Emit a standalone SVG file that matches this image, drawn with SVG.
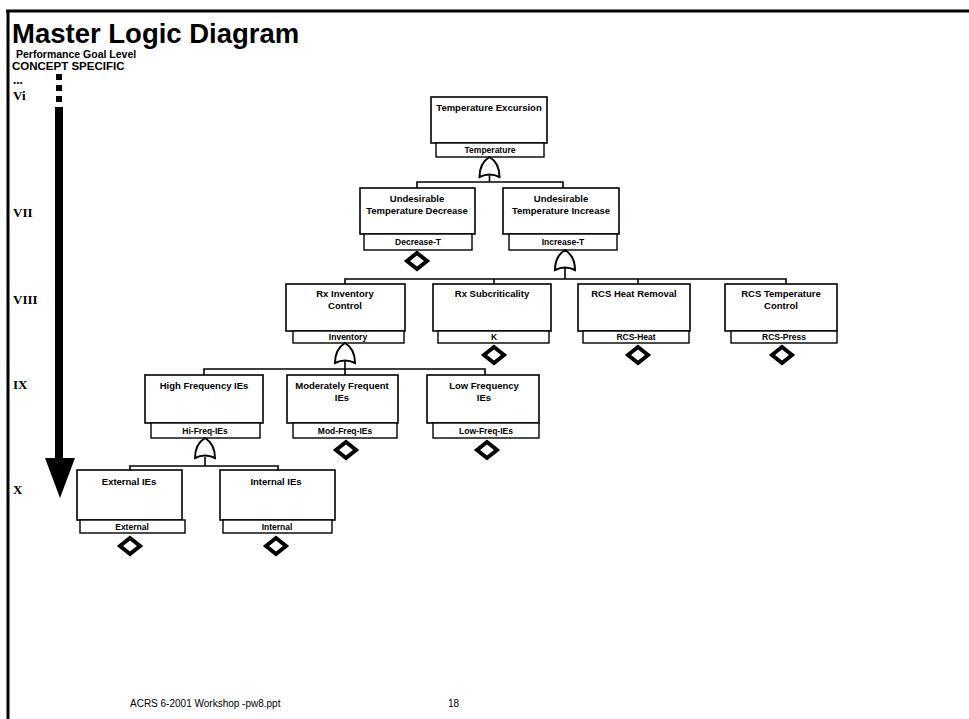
<svg xmlns="http://www.w3.org/2000/svg" width="969" height="719" viewBox="0 0 969 719">
  <style>
    .frame { stroke: #000; stroke-width: 3; fill: none; }
    .box { fill: #fff; stroke: #000; stroke-width: 1.6; }
    .lbl { fill: #fff; stroke: #000; stroke-width: 1.4; }
    .t { font-family: "Liberation Sans", Arial, sans-serif; font-weight: bold; font-size: 9.5px; text-anchor: middle; fill: #000; }
    .tl { font-family: "Liberation Sans", Arial, sans-serif; font-weight: bold; font-size: 8.5px; text-anchor: middle; fill: #000; }
    .lvl { font-family: "Liberation Serif", "Times New Roman", serif; font-weight: bold; font-size: 13px; fill: #000; }
    .wire { stroke: #000; stroke-width: 1.6; fill: none; }
    .gate { fill: #fff; stroke: #000; stroke-width: 2; }
    .dia { fill: #fff; stroke: #000; stroke-width: 4; }
  </style>
  <defs>
    <!-- OR gate, origin at the top point, 20 tall -->
    <path id="orgate" d="M -10 20 C -10 9 -5 3 0 0 C 5 3 10 9 10 20 Q 0 15 -10 20 Z"/>
    <!-- undeveloped event diamond -->
    <path id="diamond" d="M 0 -8 L 10 0 L 0 8 L -10 0 Z"/>
  </defs>

  <rect width="969" height="719" fill="#fff"/>

  <!-- slide frame -->
  <line class="frame" x1="6" y1="11" x2="969" y2="11"/>
  <line class="frame" x1="8" y1="10" x2="8" y2="719"/>

  <!-- heading -->
  <text x="12" y="43" font-family="Liberation Sans, Arial, sans-serif" font-weight="bold" font-size="27.5" fill="#000">Master Logic Diagram</text>
  <text x="16" y="58" font-family="Liberation Sans, Arial, sans-serif" font-weight="bold" font-size="10.5" fill="#000">Performance Goal Level</text>
  <text x="12" y="70" font-family="Liberation Sans, Arial, sans-serif" font-weight="bold" font-size="11.5" fill="#000">CONCEPT SPECIFIC</text>

  <!-- level scale -->
  <g id="levels">
    <text class="lvl" x="13" y="84">...</text>
    <text class="lvl" x="13" y="100">Vi</text>
    <text class="lvl" x="13" y="217">VII</text>
    <text class="lvl" x="13" y="304">VIII</text>
    <text class="lvl" x="13" y="389">IX</text>
    <text class="lvl" x="13" y="494">X</text>
    <rect x="56" y="74" width="6" height="6" fill="#000"/>
    <rect x="56" y="85" width="6" height="6" fill="#000"/>
    <rect x="56" y="96" width="6" height="6" fill="#000"/>
    <rect x="55" y="107" width="8" height="352" fill="#000"/>
    <polygon points="45,458 75,458 60,498" fill="#000"/>
  </g>

  <!-- connectors -->
  <g id="connectors">
    <!-- Temperature -> VII -->
    <line class="wire" x1="489.5" y1="175" x2="489.5" y2="182"/>
    <polyline class="wire" points="417,188 417,182 563,182 563,188"/>
    <!-- Increase-T -> VIII -->
    <line class="wire" x1="565" y1="268" x2="565" y2="279"/>
    <polyline class="wire" points="345,284 345,279 786,279 786,284"/>
    <line class="wire" x1="494" y1="279" x2="494" y2="284"/>
    <line class="wire" x1="638" y1="279" x2="638" y2="284"/>
    <!-- Inventory -> IX -->
    <line class="wire" x1="345" y1="361" x2="345" y2="369"/>
    <polyline class="wire" points="204,375 204,369 485,369 485,375"/>
    <line class="wire" x1="345" y1="369" x2="345" y2="375"/>
    <!-- Hi-Freq-IEs -> X -->
    <line class="wire" x1="205" y1="457" x2="205" y2="466"/>
    <polyline class="wire" points="130,470 130,466 278,466 278,470"/>
  </g>

  <!-- level VI -->
  <g id="temperature">
    <rect class="box" x="431" y="97" width="116" height="46"/>
    <text class="t" x="489" y="111">Temperature Excursion</text>
    <rect class="lbl" x="436" y="143" width="108" height="14"/>
    <text class="tl" x="490" y="153">Temperature</text>
    <use href="#orgate" class="gate" x="489.5" y="157"/>
  </g>

  <!-- level VII -->
  <g id="decrease-t">
    <rect class="box" x="360" y="188" width="115" height="46"/>
    <text class="t" x="417" y="202">Undesirable</text>
    <text class="t" x="417" y="214">Temperature Decrease</text>
    <rect class="lbl" x="364" y="234" width="108" height="16"/>
    <text class="tl" x="418" y="245">Decrease-T</text>
    <use href="#diamond" class="dia" x="417" y="261"/>
  </g>
  <g id="increase-t">
    <rect class="box" x="503" y="188" width="116" height="46"/>
    <text class="t" x="561" y="202">Undesirable</text>
    <text class="t" x="561" y="214">Temperature Increase</text>
    <rect class="lbl" x="509" y="234" width="108" height="16"/>
    <text class="tl" x="563" y="245">Increase-T</text>
    <use href="#orgate" class="gate" x="565" y="250"/>
  </g>

  <!-- level VIII -->
  <g id="inventory">
    <rect class="box" x="286" y="284" width="119" height="47"/>
    <text class="t" x="345" y="297">Rx Inventory</text>
    <text class="t" x="345" y="309">Control</text>
    <rect class="lbl" x="293" y="331" width="111" height="12"/>
    <text class="tl" x="348" y="340">Inventory</text>
    <use href="#orgate" class="gate" x="345" y="343"/>
  </g>
  <g id="k">
    <rect class="box" x="433" y="284" width="118" height="47"/>
    <text class="t" x="492" y="297">Rx Subcriticality</text>
    <rect class="lbl" x="438" y="331" width="111" height="12"/>
    <text class="tl" x="494" y="340">K</text>
    <use href="#diamond" class="dia" x="494" y="355"/>
  </g>
  <g id="rcs-heat">
    <rect class="box" x="578" y="284" width="112" height="47"/>
    <text class="t" x="634" y="297">RCS Heat Removal</text>
    <rect class="lbl" x="583" y="331" width="106" height="12"/>
    <text class="tl" x="636" y="340">RCS-Heat</text>
    <use href="#diamond" class="dia" x="638" y="355"/>
  </g>
  <g id="rcs-press">
    <rect class="box" x="725" y="284" width="112" height="47"/>
    <text class="t" x="781" y="297">RCS Temperature</text>
    <text class="t" x="781" y="309">Control</text>
    <rect class="lbl" x="731" y="331" width="106" height="12"/>
    <text class="tl" x="784" y="340">RCS-Press</text>
    <use href="#diamond" class="dia" x="782" y="355"/>
  </g>

  <!-- level IX -->
  <g id="hi-freq-ies">
    <rect class="box" x="145" y="375" width="118" height="48"/>
    <text class="t" x="204" y="389">High Frequency IEs</text>
    <rect class="lbl" x="151" y="423" width="109" height="15"/>
    <text class="tl" x="205" y="434">Hi-Freq-IEs</text>
    <use href="#orgate" class="gate" x="205" y="438"/>
  </g>
  <g id="mod-freq-ies">
    <rect class="box" x="287" y="375" width="111" height="48"/>
    <text class="t" x="342" y="389">Moderately Frequent</text>
    <text class="t" x="342" y="401">IEs</text>
    <rect class="lbl" x="293" y="423" width="104" height="15"/>
    <text class="tl" x="345" y="434">Mod-Freq-IEs</text>
    <use href="#diamond" class="dia" x="346" y="450"/>
  </g>
  <g id="low-freq-ies">
    <rect class="box" x="427" y="375" width="112" height="48"/>
    <text class="t" x="484" y="389">Low Frequency</text>
    <text class="t" x="484" y="401">IEs</text>
    <rect class="lbl" x="433" y="423" width="106" height="15"/>
    <text class="tl" x="486" y="434">Low-Freq-IEs</text>
    <use href="#diamond" class="dia" x="487" y="450"/>
  </g>

  <!-- level X -->
  <g id="external">
    <rect class="box" x="77" y="470" width="105" height="50"/>
    <text class="t" x="129" y="485">External IEs</text>
    <rect class="lbl" x="80" y="520" width="105" height="13"/>
    <text class="tl" x="132" y="530">External</text>
    <use href="#diamond" class="dia" x="130" y="546"/>
  </g>
  <g id="internal">
    <rect class="box" x="220" y="470" width="115" height="50"/>
    <text class="t" x="276" y="485">Internal IEs</text>
    <rect class="lbl" x="223" y="520" width="109" height="13"/>
    <text class="tl" x="277" y="530">Internal</text>
    <use href="#diamond" class="dia" x="276" y="546"/>
  </g>

  <!-- footer -->
  <text x="130" y="707" font-family="Liberation Sans, Arial, sans-serif" font-size="10" fill="#000">ACRS 6-2001 Workshop -pw8.ppt</text>
  <text x="448" y="707" font-family="Liberation Sans, Arial, sans-serif" font-size="10" fill="#000">18</text>
</svg>
